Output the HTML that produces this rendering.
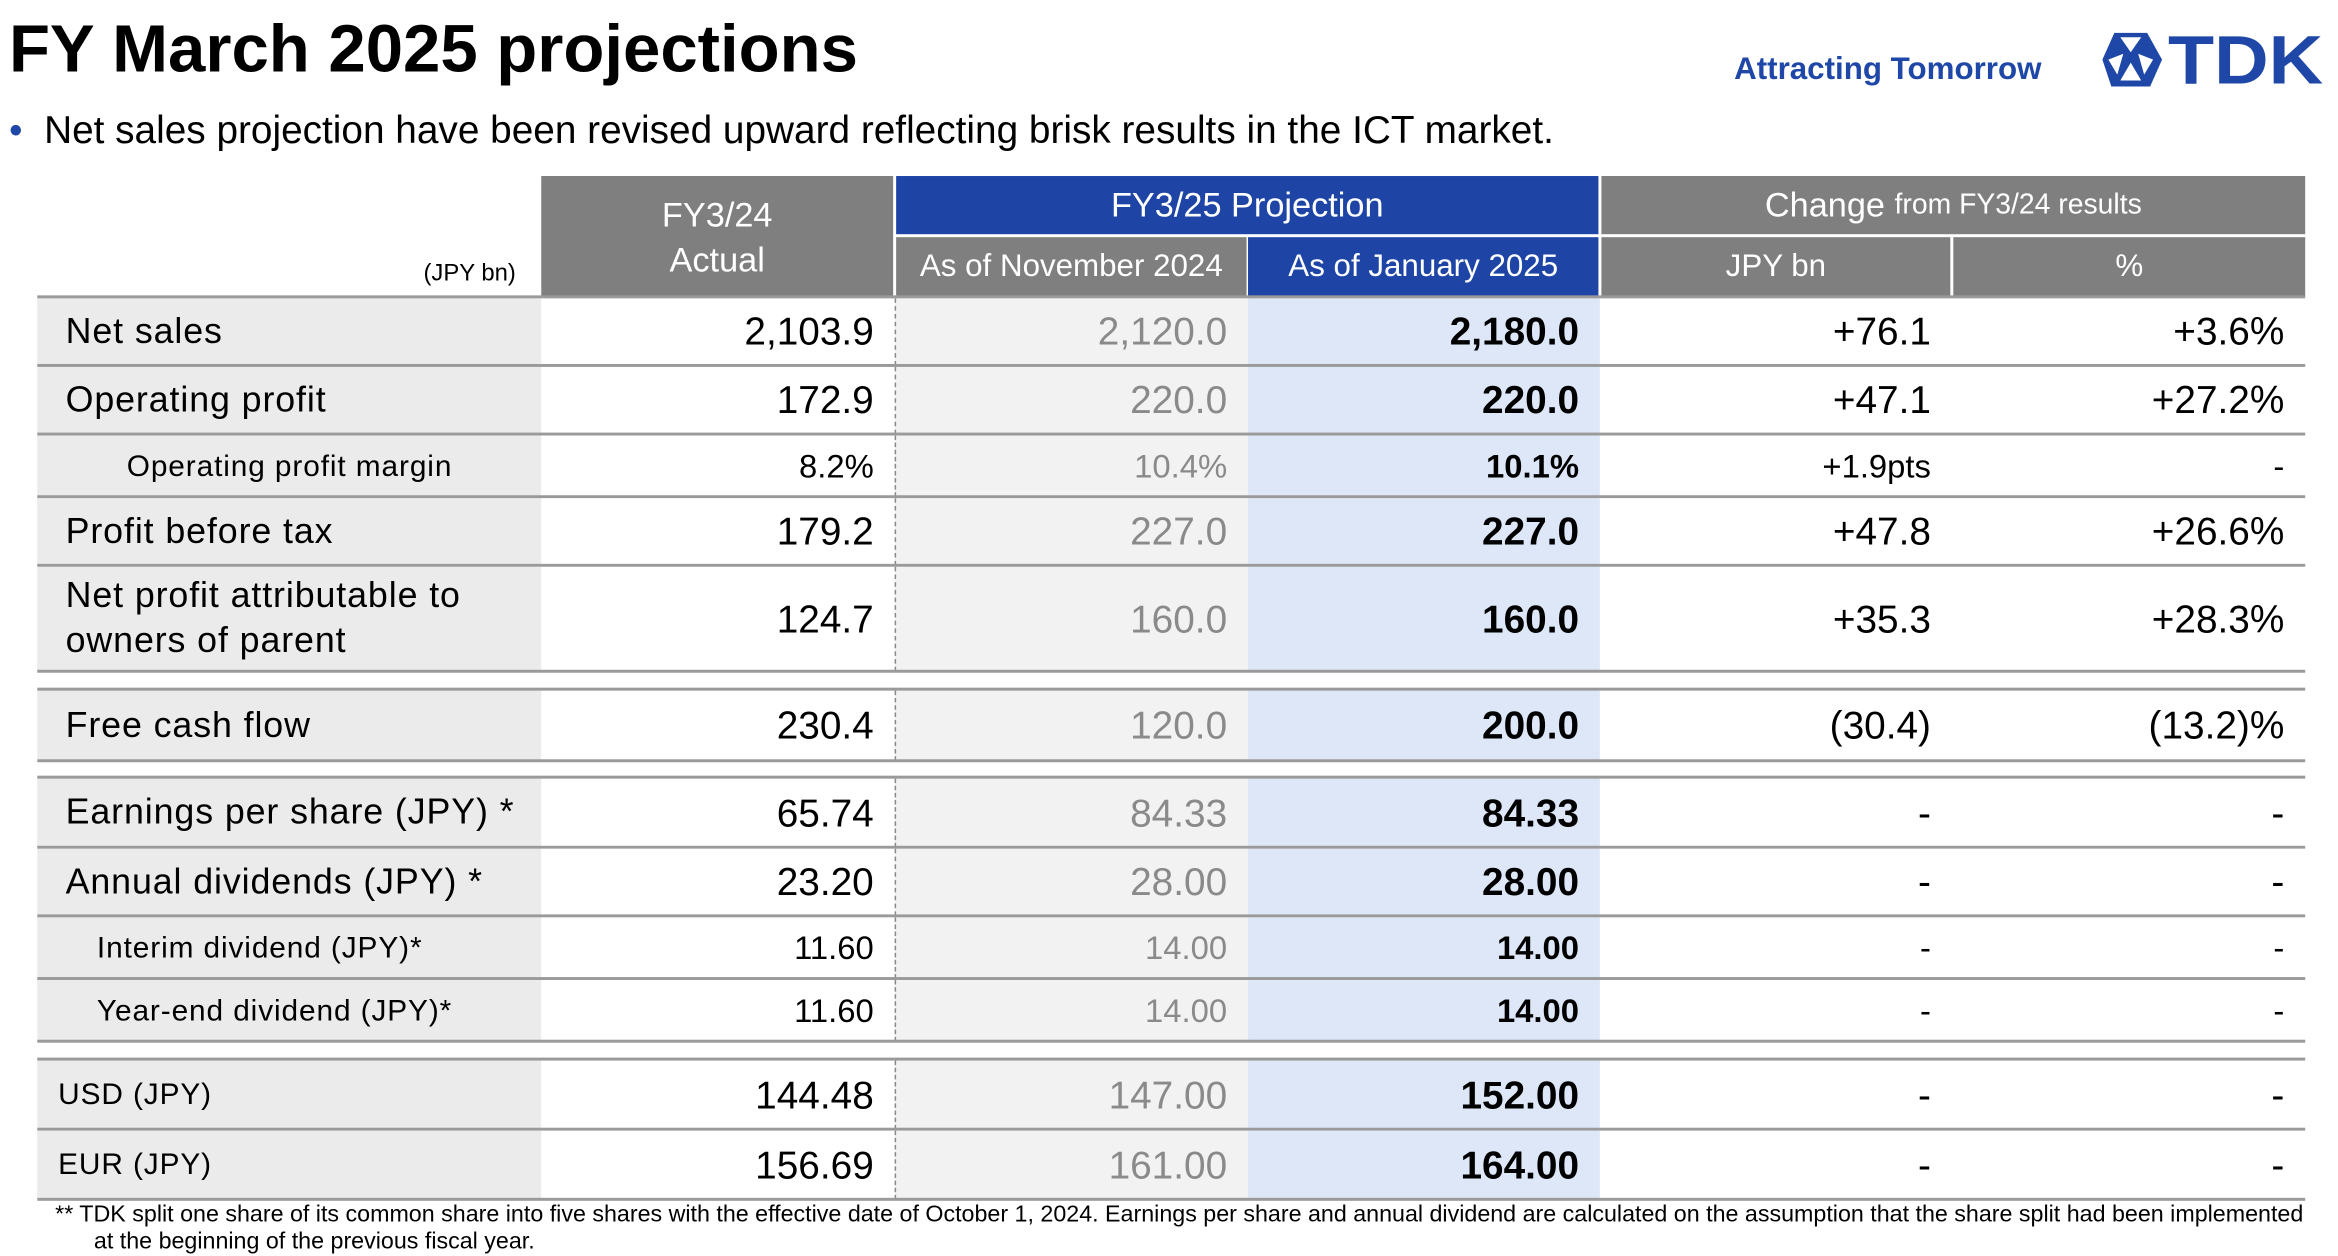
<!DOCTYPE html>
<html><head><meta charset="utf-8">
<style>
html,body{margin:0;padding:0;background:#fff;}
body{width:2338px;height:1256px;overflow:hidden;position:relative;font-family:"Liberation Sans",Arial,sans-serif;}
#s{position:absolute;left:0;top:0;width:1568px;height:842px;transform-origin:0 0;transform:scale(1.49107,1.49169);}
.a{position:absolute;box-sizing:border-box;}
.hd{background:#7f7f7f;color:#fff;display:flex;align-items:center;justify-content:center;font-size:23px;}
.c{display:flex;align-items:center;padding:0 14px;white-space:nowrap;}
.r{justify-content:flex-end;}
.line{position:absolute;left:25px;width:1521px;height:2px;background:#9a9a9a;}
</style></head><body>
<div id="s">
<div class="a" style="left:6px;top:7px;font-size:45px;font-weight:bold;">FY March 2025 projections</div>
<div class="a" style="left:1163px;top:35px;font-size:21px;font-weight:bold;color:#1f47a8;">Attracting Tomorrow</div>
<div class="a" style="left:1410px;top:20px;width:150px;height:40px;">
<svg width="150" height="40" viewBox="0 0 150 40"><polygon points="8,2 30,2 40,20 32,38 6,38 0,20" fill="#1f47a8"/><g fill="#fff"><polygon points="12,5 26,5 19,15"/><polygon points="4,20 14,16 10,30"/><polygon points="34,20 24,16 28,30"/><polygon points="19,22 12,34 26,34"/></g><text x="44" y="36" font-family="Liberation Sans" font-weight="bold" font-size="46" fill="#1f47a8" textLength="104" lengthAdjust="spacingAndGlyphs">TDK</text></svg></div>
<div class="a" style="left:6px;top:72px;font-size:26px;"><span style="color:#1f47a8;">•</span>&nbsp; Net sales projection have been revised upward reflecting brisk results in the ICT market.</div>

<div class="a" style="left:284px;top:175px;font-size:16px;">(JPY bn)</div>
<div class="a hd" style="left:363px;top:118px;width:236px;height:81px;flex-direction:column;line-height:30px;"><div>FY3/24</div><div>Actual</div></div>
<div class="a hd" style="left:601px;top:118px;width:471px;height:39px;background:#1e45a6;">FY3/25 Projection</div>
<div class="a hd" style="left:1074px;top:118px;width:472px;height:39px;">Change&nbsp;<span style="font-size:19px">from FY3/24 results</span></div>
<div class="a hd" style="left:601px;top:159px;width:235px;height:40px;font-size:21px;">As of November 2024</div>
<div class="a hd" style="left:837px;top:159px;width:235px;height:40px;font-size:21px;background:#1e45a6;">As of January 2025</div>
<div class="a hd" style="left:1074px;top:159px;width:234px;height:40px;font-size:21px;">JPY bn</div>
<div class="a hd" style="left:1310px;top:159px;width:236px;height:40px;font-size:21px;">%</div>

<div id="rows"></div>
<div class="a" style="left:37px;top:806px;width:1530px;font-size:15.6px;line-height:18px;white-space:nowrap;">
** TDK split one share of its common share into five shares with the effective date of October 1, 2024. Earnings per share and annual dividend are calculated on the assumption that the share split had been implemented<br>&nbsp;&nbsp;&nbsp;&nbsp;&nbsp;&nbsp;at the beginning of the previous fiscal year.</div>
</div>
<script>
const labels=["Net sales","Operating profit","Operating profit margin","Profit before tax","Net profit attributable to<br>owners of parent","Free cash flow","Earnings per share (JPY) *","Annual dividends (JPY) *","Interim dividend (JPY)*","Year-end dividend (JPY)*","USD (JPY)","EUR (JPY)"];
const actual=["2,103.9","172.9","8.2%","179.2","124.7","230.4","65.74","23.20","11.60","11.60","144.48","156.69"];
const nov=["2,120.0","220.0","10.4%","227.0","160.0","120.0","84.33","28.00","14.00","14.00","147.00","161.00"];
const jan=["2,180.0","220.0","10.1%","227.0","160.0","200.0","84.33","28.00","14.00","14.00","152.00","164.00"];
const chg=["+76.1","+47.1","+1.9pts","+47.8","+35.3","(30.4)","-","-","-","-","-","-"];
const pct=["+3.6%","+27.2%","-","+26.6%","+28.3%","(13.2)%","-","-","-","-","-","-"];
const tops=[200,246,292,334,380,463,522,569,615,657,711,758];
const bots=[245,291,333,379,450,510,568,614,656,698,757,804];
const small=[false,false,true,false,false,false,false,false,true,true,false,false];
const indent=[19,19,60,19,19,19,19,19,40,40,14,14];
const lblSize=[24,24,20,24,24,24,24,24,20,20,20,20];
const root=document.getElementById('rows');
function cell(x,w,t,b,bg,html,cls,style,name){
 const d=document.createElement('div');
 d.className='a c '+cls;
 d.style.cssText=`left:${x}px;top:${t}px;width:${w}px;height:${b-t}px;background:${bg};${style}`;
 d.innerHTML=html;
 
 
 root.appendChild(d);
}
labels.forEach((l,i)=>{
 const t=tops[i],b=bots[i],fs=small[i]?22:26;
 cell(25,338,t,b,'#ebebeb',l,'',`font-size:${lblSize[i]}px;padding-left:${indent[i]}px;line-height:30px;letter-spacing:0.6px;`,'row-label');
 cell(363,237,t,b,'#fff',actual[i],'r',`font-size:${fs}px;`,'actual-value');
 cell(600,237,t,b,'#f2f2f2',nov[i],'r',`font-size:${fs}px;color:#8a8a8a;border-left:1px dashed #888;`,'nov-value');
 cell(837,236,t,b,'#dde7f8',jan[i],'r',`font-size:${fs}px;font-weight:bold;`,'jan-value');
 cell(1073,236,t,b,'#fff',chg[i],'r',`font-size:${fs}px;`,'change-jpy');
 cell(1309,237,t,b,'#fff',pct[i],'r',`font-size:${fs}px;`,'change-pct');
 const ln=document.createElement('div');ln.className='line';ln.style.top=(b-1)+'px';
 
 
 root.appendChild(ln);
});
[199,462,521,710].forEach(y=>{const ln=document.createElement('div');ln.className='line';ln.style.top=(y-1)+'px';
 
 
 root.appendChild(ln);});
</script>
</body></html>
